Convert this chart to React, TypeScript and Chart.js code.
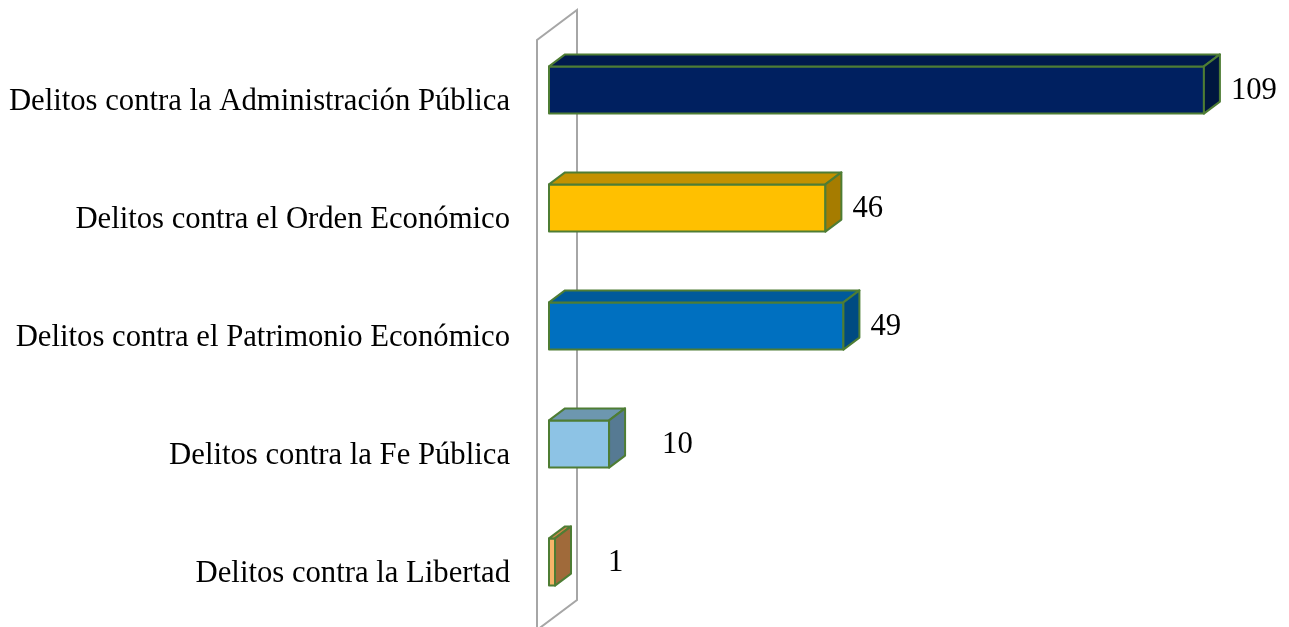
import { useEffect, useRef } from 'react';
import { Chart, registerables } from 'chart.js';

Chart.register(...registerables);

const categories = [
  'Delitos contra la Administración Pública',
  'Delitos contra el Orden Económico',
  'Delitos contra el Patrimonio Económico',
  'Delitos contra la Fe Pública',
  'Delitos contra la Libertad',
];
const values = [109, 46, 49, 10, 1];
const X_MAX = 120;

const frontColors = ['#002060', '#FFC000', '#0070C0', '#8DC3E5', '#F7B46A'];
const topColors = ['#001a4d', '#C39100', '#005A9B', '#6D97AF', '#C9874A'];
const sideColors = ['#00173f', '#A67C00', '#004B82', '#567A93', '#A06A3A'];

const BORDER = '#4E7D34';
const WALL = '#A6A6A6';
const FONT = '"Liberation Serif", "Times New Roman", serif';
const FONT_SIZE = 30.7;
const DX = 16;
const DY = 12;

const bar3d = {
  id: 'bar3d',
  beforeDatasetsDraw(chart: any) {
    const { ctx, chartArea } = chart;
    const x0 = chart.scales.x.getPixelForValue(0);
    const fx = x0 - 12;
    const bx = x0 + 28;
    ctx.save();
    ctx.strokeStyle = WALL;
    ctx.lineWidth = 2;
    ctx.beginPath();
    ctx.moveTo(fx, chartArea.bottom + 12);
    ctx.lineTo(fx, chartArea.top + 9);
    ctx.lineTo(bx, chartArea.top - 21);
    ctx.lineTo(bx, chartArea.bottom - 21);
    ctx.lineTo(fx, chartArea.bottom + 9);
    ctx.stroke();
    ctx.restore();
  },
  afterDatasetsDraw(chart: any) {
    const { ctx } = chart;
    const meta = chart.getDatasetMeta(0);
    const maxV = Math.max(...values);
    ctx.save();
    ctx.lineWidth = 2;
    ctx.lineJoin = 'round';
    ctx.strokeStyle = BORDER;
    meta.data.forEach((el: any, i: number) => {
      const { x, y, base, height } = el.getProps(['x', 'y', 'base', 'height'], true);
      const t = y - height / 2;
      const b = y + height / 2;
      const l = base;
      const r = x;
      // front
      ctx.fillStyle = frontColors[i];
      ctx.beginPath();
      ctx.rect(l, t, r - l, b - t);
      ctx.fill();
      ctx.stroke();
      // top
      ctx.fillStyle = topColors[i];
      ctx.beginPath();
      ctx.moveTo(l, t);
      ctx.lineTo(l + DX, t - DY);
      ctx.lineTo(r + DX, t - DY);
      ctx.lineTo(r, t);
      ctx.closePath();
      ctx.fill();
      ctx.stroke();
      // side
      ctx.fillStyle = sideColors[i];
      ctx.beginPath();
      ctx.moveTo(r, t);
      ctx.lineTo(r + DX, t - DY);
      ctx.lineTo(r + DX, b - DY);
      ctx.lineTo(r, b);
      ctx.closePath();
      ctx.fill();
      ctx.stroke();
      // value label
      const v = values[i];
      const extra = v < maxV * 0.15 ? 26 : 0;
      ctx.fillStyle = '#000000';
      ctx.font = `${FONT_SIZE}px ${FONT}`;
      ctx.textAlign = 'left';
      ctx.textBaseline = 'middle';
      ctx.fillText(String(v), r + DX + 11 + extra, y + 1);
    });
    ctx.restore();
  },
};

export default function App() {
  const ref = useRef<HTMLCanvasElement>(null);
  useEffect(() => {
    if (!ref.current) return;
    const chart = new Chart(ref.current, {
      type: 'bar',
      data: {
        labels: categories,
        datasets: [
          {
            data: values,
            backgroundColor: 'rgba(0,0,0,0)',
            borderWidth: 0,
            categoryPercentage: 1,
            barPercentage: 0.4,
          },
        ],
      },
      options: {
        indexAxis: 'y',
        responsive: false,
        animation: false,
        devicePixelRatio: 1,
        layout: { padding: { top: 31, bottom: 6, right: 19, left: 0 } },
        plugins: {
          legend: { display: false },
          tooltip: { enabled: false },
          title: { display: false },
        },
        scales: {
          x: { display: false, min: 0, max: X_MAX },
          y: {
            grid: { display: false, drawTicks: false },
            border: { display: false },
            afterFit: (scale: any) => {
              scale.width = 549;
              scale.paddingTop = 0;
              scale.paddingBottom = 0;
            },
            ticks: {
              padding: 39,
              labelOffset: 12,
              color: '#000000',
              font: { family: FONT, size: FONT_SIZE },
            },
          },
        },
      },
      plugins: [bar3d],
    });
    return () => chart.destroy();
  }, []);
  return (
    <div style={{ position: 'fixed', left: 0, top: 0, width: 1289, height: 627, background: '#ffffff' }}>
      <canvas ref={ref} width={1289} height={627} />
    </div>
  );
}
